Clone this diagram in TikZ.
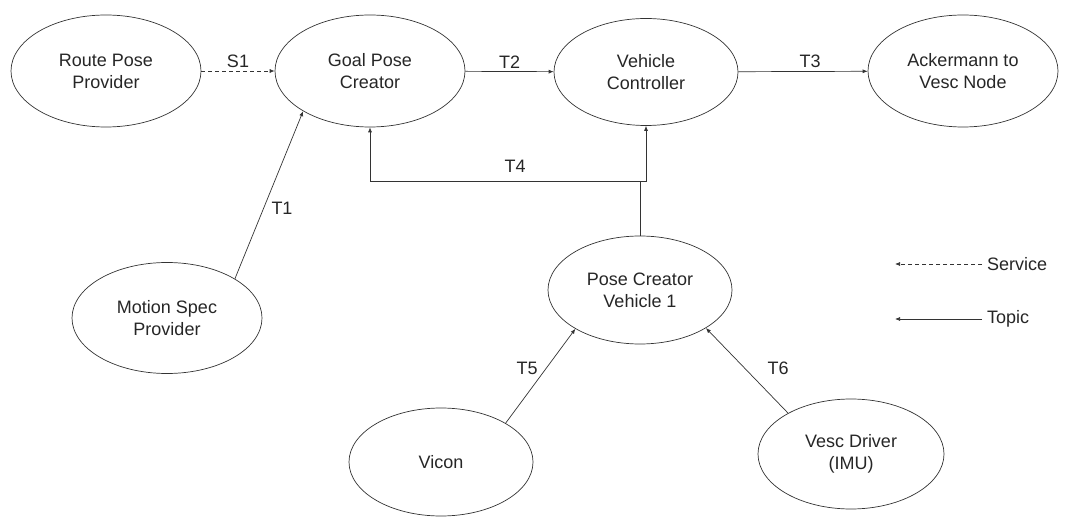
\documentclass[tikz,border=0pt]{standalone}
\usepackage{fontspec}
\setmainfont{Liberation Sans}
\usetikzlibrary{shapes.geometric,arrows.meta}

\tikzset{
    proc/.style={ellipse,draw=black!80,line width=0.7pt,inner sep=0pt,
        align=center,text=black!85,font=\fontsize{18}{22}\selectfont,
        minimum width=190pt,minimum height=112pt},
    topic/.style={draw=black!80,line width=0.7pt,-{Latex[length=5pt,width=4pt]}},
    service/.style={topic,dash pattern=on 4pt off 3pt},
    lbl/.style={text=black!85,font=\fontsize{18}{22}\selectfont,inner sep=2pt}
}

\begin{document}
\begin{tikzpicture}[x=1pt,y=-1pt]
    \useasboundingbox (0,0) rectangle (1081,526);
    % nodes
    \node[proc] (rp) at (106,71) {Route Pose\\Provider};
    \node[proc] (gp) at (370,71) {Goal Pose\\Creator};
    \node[proc,minimum width=184pt,minimum height=107pt] (vc) at (646,72) {Vehicle\\Controller};
    \node[proc] (ack) at (963,71) {Ackermann to\\Vesc Node};
    \node[proc,minimum height=111pt] (ms) at (167,318) {Motion Spec\\Provider};
    \node[proc,minimum width=184pt,minimum height=108pt] (pc) at (640,290) {Pose Creator\\Vehicle 1};
    \node[proc,minimum width=184pt,minimum height=108pt] (vic) at (441,462) {Vicon};
    \node[proc,minimum width=186pt,minimum height=110pt] (imu) at (851,454) {Vesc Driver\\(IMU)};

    % connectors
    \draw[service] (rp) -- (gp) node[lbl,midway,above=1pt] (s1) {S1};
    \draw[topic] (gp) -- (vc) node[lbl,midway,above=1pt] (t2) {T2};
    \draw[topic] (vc) -- (ack) node[lbl,midway,above=1pt,xshift=7pt] (t3) {T3};
    \draw[topic] (ms.30) -- (gp.211);
    \node[lbl] (t1) at (282,208) {T1};
    \coordinate (knee) at (640,181);
    \draw[topic] (pc.north) -- (knee) -| (gp.south);
    \draw[topic] (knee) -| (vc.south);
    \node[lbl] (t4) at (515,166) {T4};
    \draw[topic] (vic.31) -- (pc.211);
    \node[lbl] (t5) at (527,368) {T5};
    \draw[topic] (imu.147) -- (pc.330);
    \node[lbl] (t6) at (778,368) {T6};

    % legend
    \node[lbl,anchor=west,inner sep=5pt] (svc) at (982,264) {Service};
    \coordinate (svcend) at (895,264);
    \draw[service] (svc.west) -- (svcend);
    \node[lbl,anchor=west,inner sep=5pt] (tpc) at (982,319) {Topic};
    \coordinate (tpcend) at (895,319);
    \draw[topic] (tpc.west) -- (tpcend);
\end{tikzpicture}
\end{document}
